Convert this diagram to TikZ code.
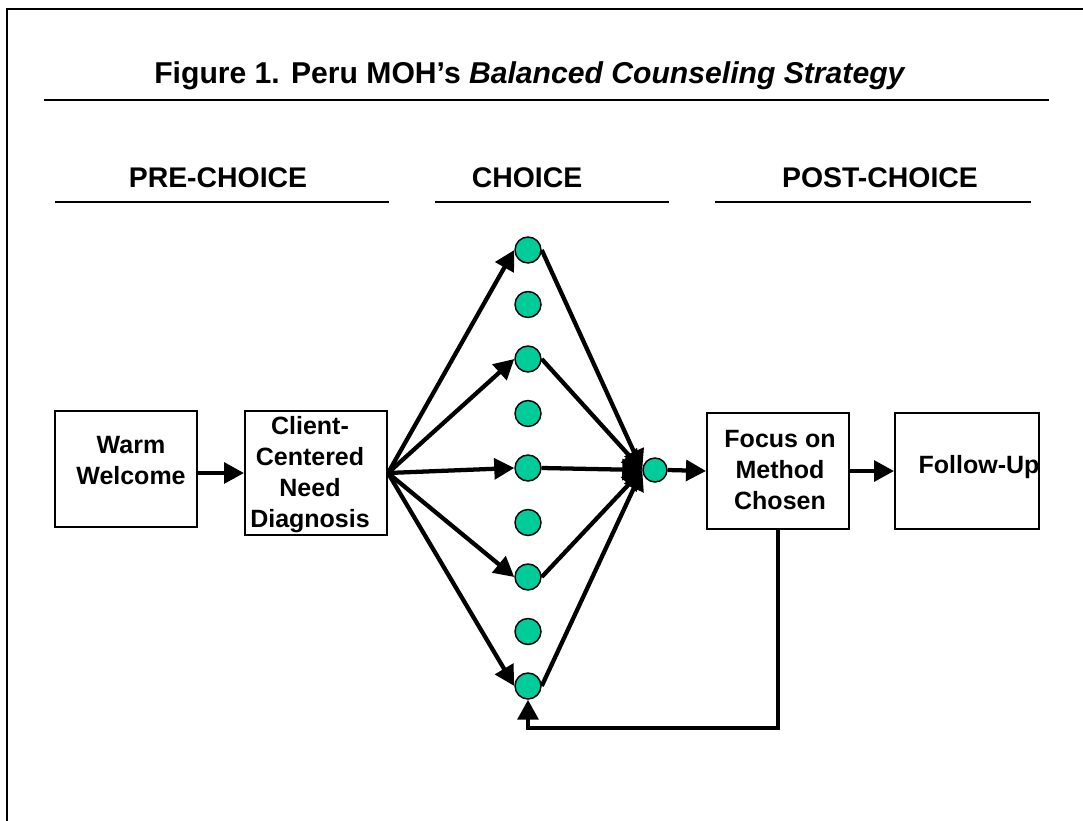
\documentclass[tikz,border=0pt]{standalone}
\usepackage{fontspec}
\setmainfont{Liberation Sans}
\usetikzlibrary{arrows.meta}
\definecolor{dotgreen}{RGB}{0,204,153}

\begin{document}
\begin{tikzpicture}[x=0.75pt,y=-0.75pt,
		rule/.style={line width=2pt},
		stage/.style={draw,line width=1.5pt,minimum width=106.5pt,minimum height=87pt,inner sep=0pt},
		stagetext/.style={font=\fontsize{18.75}{23.25}\selectfont\bfseries,align=center,inner sep=0pt},
		head/.style={font=\fontsize{21.3}{25}\selectfont\bfseries,anchor=base,inner sep=0pt},
		opt/.style={circle,draw,line width=1.1pt,fill=dotgreen,minimum size=19.5pt,inner sep=0pt},
		flow/.style={line width=3.2pt,-{Triangle[length=15pt,width=15.5pt]}}]
	
	\useasboundingbox (0,0) rectangle (1083,821);
	\fill [white] (0,0) rectangle (1083,821);
	\draw [rule] (7,821) -- (7,9) -- (1083,9);
	
	\node [head,font=\fontsize{22.6}{26}\selectfont\bfseries] (title) at (530,83) {Figure 1. Peru MOH’s \textit{Balanced Counseling Strategy}};
	\draw [rule] (44,100) -- (1049,100);
	
	\node [head] (pre) at (218,187) {PRE-CHOICE};
	\node [head] (choice) at (527,187) {CHOICE};
	\node [head] (post) at (880,187) {POST-CHOICE};
	\draw [rule] (55,202) -- (389,202);
	\draw [rule] (435,202) -- (669,202);
	\draw [rule] (715,202) -- (1031,202);
	
	\node [stage] (warm) at (126,469) {};
	\node [stage,minimum height=93pt] (need) at (316,473) {};
	\node [stage] (focus) at (778,471) {};
	\node [stage,minimum width=108pt] (follow) at (967,471) {};
	\node [stagetext] (warmtxt) at (131,461) {Warm\\Welcome};
	\node [stagetext] (needtxt) at (310,475) {Client-\\Centered\\Need\\Diagnosis};
	\node [stagetext] (focustxt) at (780,470) {Focus on\\Method\\Chosen};
	\node [stagetext] (followtxt) at (979,467) {Follow-Up};
	
	\foreach \i in {1,...,9}
		\node [opt] (dot\i) at (528,{250+54.5*(\i-1)}) {};
	\node [opt,minimum size=18pt] (join) at (655,470) {};
	
	\draw [flow] (warm.east |- need.west) -- (need.west);
	\foreach \i in {1,3,5,7,9} {
		\draw [flow] (need.east) -- (dot\i.west);
		\draw [flow] (dot\i.east) -- (join.west);
	}
	\draw [flow] (join.east) -- (focus.west);
	\draw [flow] (focus.east) -- (follow.west);
	\draw [flow] (focus.south) -- ++(0,198) -| (dot9.south);
\end{tikzpicture}
\end{document}
